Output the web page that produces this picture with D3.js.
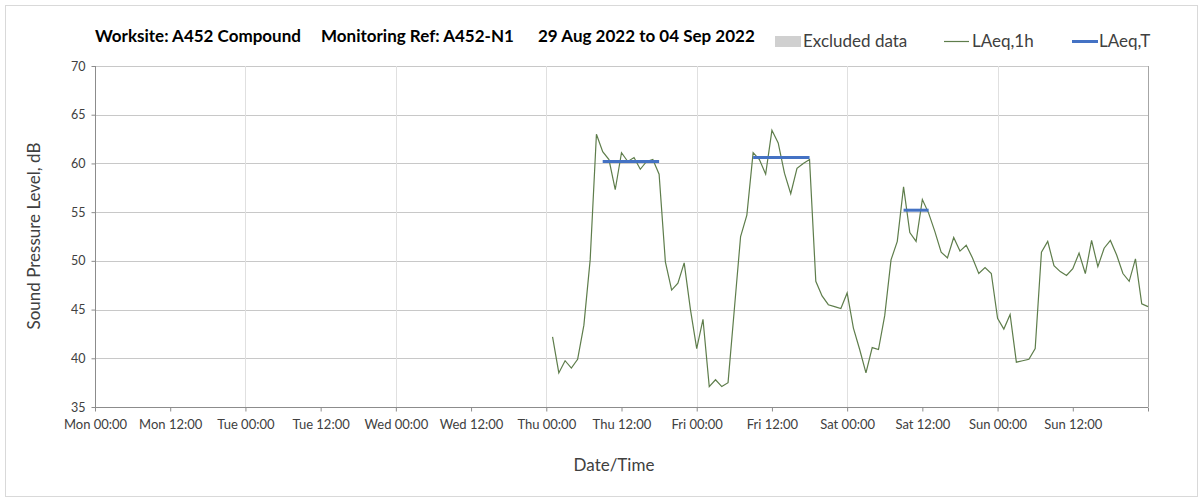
<!DOCTYPE html>
<html>
<head>
<meta charset="utf-8">
<script src="https://cdn.jsdelivr.net/npm/d3@7"></script>
<style>
  body { margin: 0; background: #fff; }
  text { font-family: Lato, "Open Sans", sans-serif; }
</style>
</head>
<body>
<svg id="chart"></svg>
<script>
// hourly LAeq,1h values, hour-ending, hours counted from Mon 00:00
var firstHour = 73;
var laeq1h = [
    42.2, 38.5, 39.75, 39.0, 39.9, 43.4, 50.1, 63.0,
    61.2, 60.4, 57.3, 61.1, 60.2, 60.6, 59.4, 60.2, 60.4, 58.9,
    49.9, 47.0, 47.7, 49.8, 45.0, 41.0, 44.0, 37.1, 37.8, 37.1,
    37.5, 45.0, 52.5, 54.7, 61.1, 60.4, 58.9, 63.4, 62.1, 59.0,
    56.9, 59.5, 60.0, 60.4, 47.9, 46.4, 45.5, 45.3, 45.1, 46.7,
    43.1, 40.9, 38.5, 41.1, 40.9, 44.4, 50.1, 52.0, 57.6, 52.9,
    52.0, 56.3, 54.9, 53.0, 50.9, 50.3, 52.4, 51.0, 51.6, 50.3,
    48.7, 49.3, 48.7, 44.1, 43.0, 44.5, 39.6, 39.75, 39.9, 41.0,
    50.9, 52.0, 49.5, 48.9, 48.5, 49.2, 50.8, 48.7, 52.1, 49.4,
    51.3, 52.1, 50.6, 48.7, 47.9, 50.2, 45.6, 45.3
];

// LAeq,T periods
var periodStart = [81, 105, 129];
var periodEnd = [90, 114, 133];
var periodValue = [60.2, 60.6, 55.2];

var tickHours = [0, 12, 24, 36, 48, 60, 72, 84, 96, 108, 120, 132, 144, 156, 168];
var tickLabels = ["Mon 00:00", "Mon 12:00", "Tue 00:00", "Tue 12:00", "Wed 00:00", "Wed 12:00",
    "Thu 00:00", "Thu 12:00", "Fri 00:00", "Fri 12:00", "Sat 00:00", "Sat 12:00",
    "Sun 00:00", "Sun 12:00", ""];
var yTicks = [35, 40, 45, 50, 55, 60, 65, 70];

var width = 1203,
    height = 501;

var svg = d3.select("#chart")
    .attr("width", width)
    .attr("height", height);

// outer frame
svg.append("rect")
    .attr("x", 5.5).attr("y", 5.5)
    .attr("width", 1192).attr("height", 491)
    .attr("fill", "none")
    .attr("stroke", "#d9d9d9");

var x = d3.scaleLinear().domain([0, 168]).range([95, 1148]);
var y = d3.scaleLinear().domain([35, 70]).range([407, 66]);

// gridlines
svg.append("g").selectAll("line")
    .data(yTicks.slice(1)).enter()
    .append("line")
    .attr("x1", x(0)).attr("x2", x(168))
    .attr("y1", d => Math.round(y(d)) + 0.5)
    .attr("y2", d => Math.round(y(d)) + 0.5)
    .attr("stroke", "#c8c8c8");

svg.append("g").selectAll("line")
    .data(tickHours.filter(h => h % 24 == 0 && h > 0)).enter()
    .append("line")
    .attr("x1", d => Math.round(x(d)) + 0.5)
    .attr("x2", d => Math.round(x(d)) + 0.5)
    .attr("y1", y(70)).attr("y2", y(35))
    .attr("stroke", d => d == 168 ? "#a6a6a6" : "#e0e0e0");

// axes
var xAxis = d3.axisBottom(x)
    .tickValues(tickHours)
    .tickSize(4)
    .tickFormat((d, i) => tickLabels[i]);
var gx = svg.append("g")
    .attr("transform", "translate(0," + (Math.round(y(35)) + 0.5) + ")")
    .call(xAxis);
gx.select(".domain").attr("stroke", "#8c8c8c").attr("d", "M" + x(0) + ",0H" + x(168));
gx.selectAll(".tick line").attr("stroke", "#8c8c8c");
gx.selectAll(".tick text")
    .attr("dy", "1.15em")
    .attr("font-size", 13)
    .attr("fill", "#404040");

var yAxis = d3.axisLeft(y)
    .tickValues(yTicks)
    .tickSize(4)
    .tickPadding(6);
var gy = svg.append("g")
    .attr("transform", "translate(" + (Math.round(x(0)) + 0.5) + ",0)")
    .call(yAxis);
gy.select(".domain").attr("stroke", "#8c8c8c").attr("d", "M0," + y(70) + "V" + y(35));
gy.selectAll(".tick line").attr("stroke", "#8c8c8c");
gy.selectAll(".tick text")
    .attr("font-size", 12.5)
    .attr("fill", "#404040");

// LAeq,1h line
var line = d3.line()
    .x((d, i) => x(firstHour + i))
    .y(d => y(d));
svg.append("path")
    .datum(laeq1h)
    .attr("d", line)
    .attr("fill", "none")
    .attr("stroke", "#5e7d4b")
    .attr("stroke-width", 1.2);

// LAeq,T periods
svg.append("g").selectAll("line")
    .data(periodValue).enter()
    .append("line")
    .attr("x1", (d, i) => x(periodStart[i]))
    .attr("x2", (d, i) => x(periodEnd[i]))
    .attr("y1", d => y(d))
    .attr("y2", d => y(d))
    .attr("stroke", "#4472c4")
    .attr("stroke-width", 3);

// title
var titleParts = [
    ["Worksite: A452 Compound", 95],
    ["Monitoring Ref: A452-N1", 321],
    ["29 Aug 2022 to 04 Sep 2022", 538]
];
svg.append("g").selectAll("text")
    .data(titleParts).enter()
    .append("text")
    .attr("x", d => d[1]).attr("y", 42)
    .attr("font-size", 17)
    .attr("font-weight", "bold")
    .attr("fill", "#000")
    .text(d => d[0]);

// legend
var legend = svg.append("g").attr("font-size", 17).attr("fill", "#404040");
legend.append("rect")
    .attr("x", 775).attr("y", 36).attr("width", 26).attr("height", 11)
    .attr("fill", "#d0d0d0");
legend.append("text").attr("x", 803).attr("y", 47).text("Excluded data");
legend.append("line")
    .attr("x1", 944).attr("x2", 969).attr("y1", 41.5).attr("y2", 41.5)
    .attr("stroke", "#5e7d4b").attr("stroke-width", 1.2);
legend.append("text").attr("x", 972).attr("y", 47).text("LAeq,1h");
legend.append("line")
    .attr("x1", 1072).attr("x2", 1098).attr("y1", 41.5).attr("y2", 41.5)
    .attr("stroke", "#4472c4").attr("stroke-width", 3);
legend.append("text").attr("x", 1099).attr("y", 47).text("LAeq,T");

// axis titles
svg.append("text")
    .attr("x", 614).attr("y", 471)
    .attr("text-anchor", "middle")
    .attr("font-size", 17)
    .attr("fill", "#404040")
    .text("Date/Time");

svg.append("text")
    .attr("transform", "translate(40,236) rotate(-90)")
    .attr("text-anchor", "middle")
    .attr("font-size", 17)
    .attr("fill", "#404040")
    .text("Sound Pressure Level, dB");
</script>
</body>
</html>
